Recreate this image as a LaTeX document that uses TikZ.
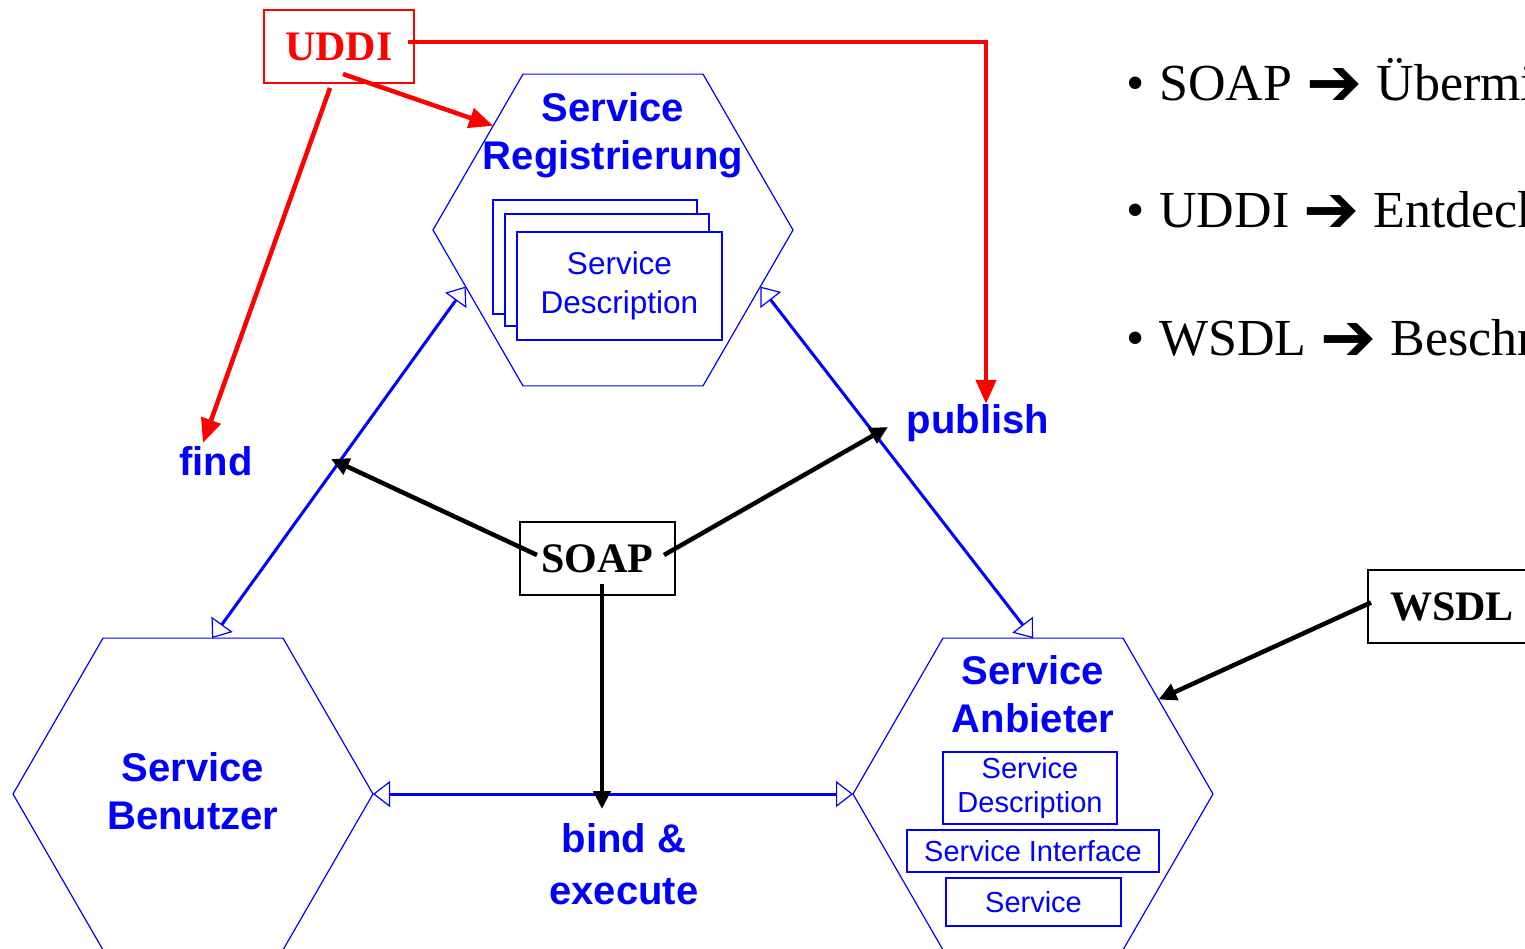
\documentclass[tikz,border=0pt]{standalone}
\usepackage{fontspec}
\setmainfont{Liberation Serif}
\newfontfamily\arial{Liberation Sans}
\newfontfamily\dejavu{DejaVu Sans}
\usetikzlibrary{arrows.meta,shapes.geometric,calc}
\definecolor{pblue}{RGB}{0,0,255}
\definecolor{pred}{RGB}{255,0,0}
\newcommand\myarr{\raisebox{-5pt}{\dejavu\fontsize{67pt}{67pt}\selectfont ➔}}
\begin{document}
\begin{tikzpicture}[x=1pt,y=-1pt,
  hexa/.style={regular polygon, regular polygon sides=6, minimum size=360pt,
    inner sep=0pt, outer sep=0pt, draw=pblue, line width=1.2pt},
  bigl/.style={text=pblue, font=\arial\bfseries\fontsize{40pt}{48pt}\selectfont,
    align=center, inner sep=0pt},
  sdbox/.style={draw=pblue, fill=white, line width=1.2pt, text=pblue,
    font=\arial\fontsize{31.5pt}{38.5pt}\selectfont, align=center, inner sep=0pt},
  apbox/.style={draw=pblue, fill=white, line width=1.2pt, text=pblue,
    font=\arial\fontsize{29pt}{34pt}\selectfont, align=center, inner sep=0pt},
  bx/.style={draw, line width=2pt, font=\bfseries\fontsize{42pt}{42pt}\selectfont,
    inner sep=0pt, minimum height=73pt},
  bconn/.style={draw=pblue, line width=3pt,
    {Triangle[open,length=17pt,width=26pt,line width=1.2pt]}-{Triangle[open,length=17pt,width=26pt,line width=1.2pt]}},
  rconn/.style={draw=pred, line width=4.5pt, -{Triangle[length=24pt,width=20pt]}},
  kconn/.style={draw=black, line width=4.5pt, -{Triangle[length=18pt,width=17pt]}},
  rtext/.style={anchor=base west, inner sep=0pt, font=\fontsize{52pt}{52pt}\selectfont}
]
\useasboundingbox (0,0) rectangle (1525,948);

% hexagons
\node[hexa] (hexT) at (613,230) {};
\node[hexa] (hexBL) at (193,794) {};
\node[hexa] (hexBR) at (1033,794) {};

% labels
\node[bigl] (lT) at (613,135) {Service\\Registrierung};
\node[bigl] (lBL) at (193,791) {Service\\Benutzer};
\node[bigl] (lBR) at (1033,694) {Service\\Anbieter};
\node[bigl, anchor=base] (find) at (216,475) {find};
\node[bigl, anchor=base] (publish) at (978,433) {publish};
\node[bigl, font=\arial\bfseries\fontsize{40pt}{52pt}\selectfont] (bind) at (624,864.5) {bind \&\\execute};

% stacked service descriptions in registry
\node[sdbox, minimum width=204pt, minimum height=114pt] (sd1) at (595,257) {};
\node[sdbox, minimum width=204pt, minimum height=112pt] (sd2) at (607,270) {};
\node[sdbox, minimum width=205pt, minimum height=108pt] (sd3) at (619.5,286) {Service\\Description};

% provider boxes
\node[apbox, minimum width=174pt, minimum height=72pt] (apd) at (1030,788) {Service\\Description};
\node[apbox, minimum width=252pt, minimum height=42pt] (api) at (1033,851) {Service Interface};
\node[apbox, minimum width=175pt, minimum height=48pt] (aps) at (1033.5,902) {Service};

% boxes
\node[bx, draw=pred, text=pred, minimum width=150pt] (uddi) at (339,46.5) {UDDI};
\node[bx, minimum width=155pt] (soap) at (597.5,558.5) {SOAP};
\node[bx, minimum width=168pt] (wsdl) at (1452,606.5) {WSDL};

% blue connectors
\draw[bconn] (hexT.201) -- (hexBL.83);
\draw[bconn] (hexT.339) -- (hexBR.north);
\draw[bconn] (hexBL.east) -- (hexBR.west);

% red connectors
\draw[rconn] ([xshift=-7pt,yshift=4.5pt]uddi.east) -| ([xshift=8pt]publish.north);
\draw[rconn] ([xshift=4pt,yshift=10pt]uddi.south) -- (hexT.139);
\draw[rconn] ([xshift=-9pt,yshift=-4pt]uddi.south) -- ([xshift=-13pt,yshift=3pt]find.north);

% black connectors
\coordinate (findtip) at (331,459);
\coordinate (pubtip) at (888,427);
\coordinate (bindtip) at (602,809);
\draw[kconn] ([xshift=18pt,yshift=3.5pt]soap.west) -- (findtip);
\draw[kconn] ([xshift=-12pt,yshift=3.5pt]soap.east) -- (pubtip);
\draw[kconn] ([xshift=4.5pt,yshift=12pt]soap.south) -- (bindtip);
\draw[kconn] ([xshift=4pt,yshift=4pt]wsdl.west) -- (hexBR.37);

% right text
\node[rtext] (t1) at (1126,100) {•\hspace{15pt}SOAP\hspace{14pt}\myarr\hspace{14pt}Übermittlung};
\node[rtext] (t2) at (1126,227) {•\hspace{15pt}UDDI\hspace{14pt}\myarr\hspace{14pt}Entdeckung};
\node[rtext] (t3) at (1126,355) {•\hspace{15pt}WSDL\hspace{14pt}\myarr\hspace{14pt}Beschreibung};
\end{tikzpicture}
\end{document}
